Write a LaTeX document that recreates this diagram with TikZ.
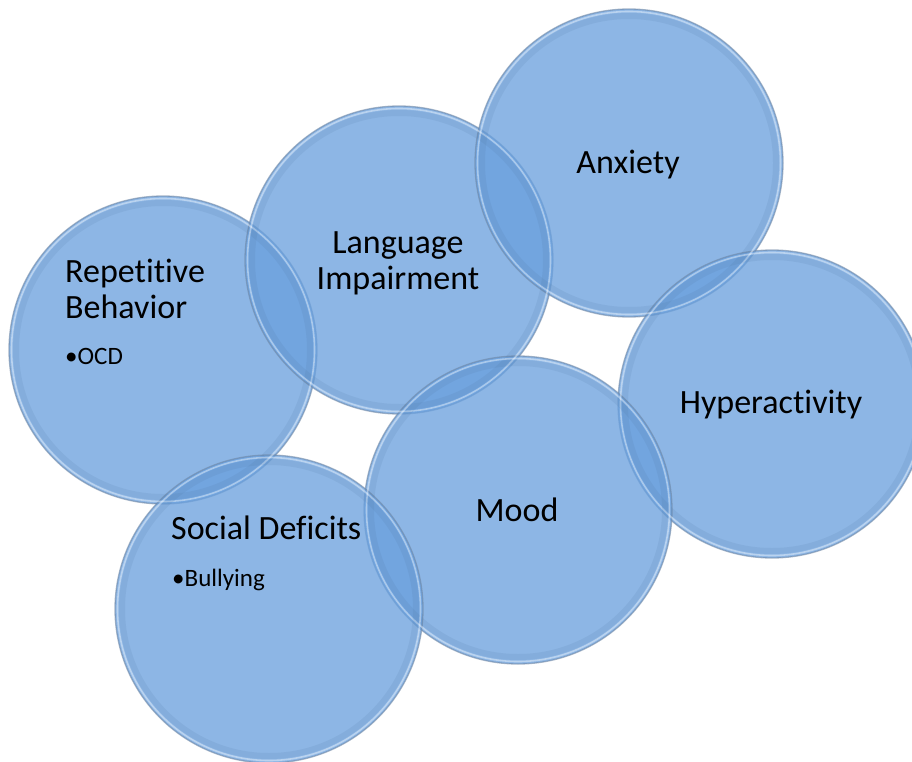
\documentclass[tikz,border=0pt]{standalone}
\usepackage{fontspec}
\setmainfont{Carlito}[Ligatures={NoCommon,NoContextual}]
\definecolor{bubble}{RGB}{107,161,222}
\definecolor{rim}{RGB}{110,135,165}
\begin{document}
\begin{tikzpicture}[x=1pt,y=-1pt,
  bubble/.style={circle,minimum size=308pt,inner sep=0pt,fill=bubble,fill opacity=0.77,
    draw=rim,draw opacity=0.6,line width=1.3pt},
  glow/.style={draw=white,draw opacity=0.4,line width=1.6pt},
  shade/.style={draw=bubble!70!black,draw opacity=0.12,line width=6pt},
  big/.style={font=\fontsize{34}{36}\selectfont,inner sep=0pt,text=black},
  small/.style={font=\fontsize{25}{28}\selectfont,inner sep=0pt,text=black}]
\useasboundingbox (0,0) rectangle (912,762);
\fill[white] (0,0) rectangle (912,762);
\node[bubble] (rep) at (163,350) {};
\node[bubble] (lang) at (399,260) {};
\node[bubble] (anx) at (629,163) {};
\node[bubble] (hyp) at (772,404) {};
\node[bubble] (mood) at (518,510) {};
\node[bubble] (soc) at (269,609) {};
\foreach \c in {rep,lang,anx,hyp,mood,soc}{
  \draw[shade] (\c.center) circle[radius=147pt];
  \draw[glow] (\c.center) circle[radius=151.5pt];
}
\node[big,anchor=base west] (rep1) at (65,282) {Repetitive};
\node[big,anchor=base west] (rep2) at (65,318) {Behavior};
\node[small,anchor=base west] (rep3) at (65,364) {•OCD};
\node[big,anchor=base] (lang1) at (398,253) {Language};
\node[big,anchor=base] (lang2) at (398,289) {Impairment};
\node[big,anchor=base] (anx1) at (628,174) {Anxiety};
\node[big,anchor=base] (hyp1) at (771,413) {Hyperactivity};
\node[big,anchor=base] (mood1) at (517,521) {Mood};
\node[big,anchor=base west] (soc1) at (171,539) {Social Deficits};
\node[small,anchor=base west] (soc2) at (172,586) {•Bullying};
\end{tikzpicture}
\end{document}
